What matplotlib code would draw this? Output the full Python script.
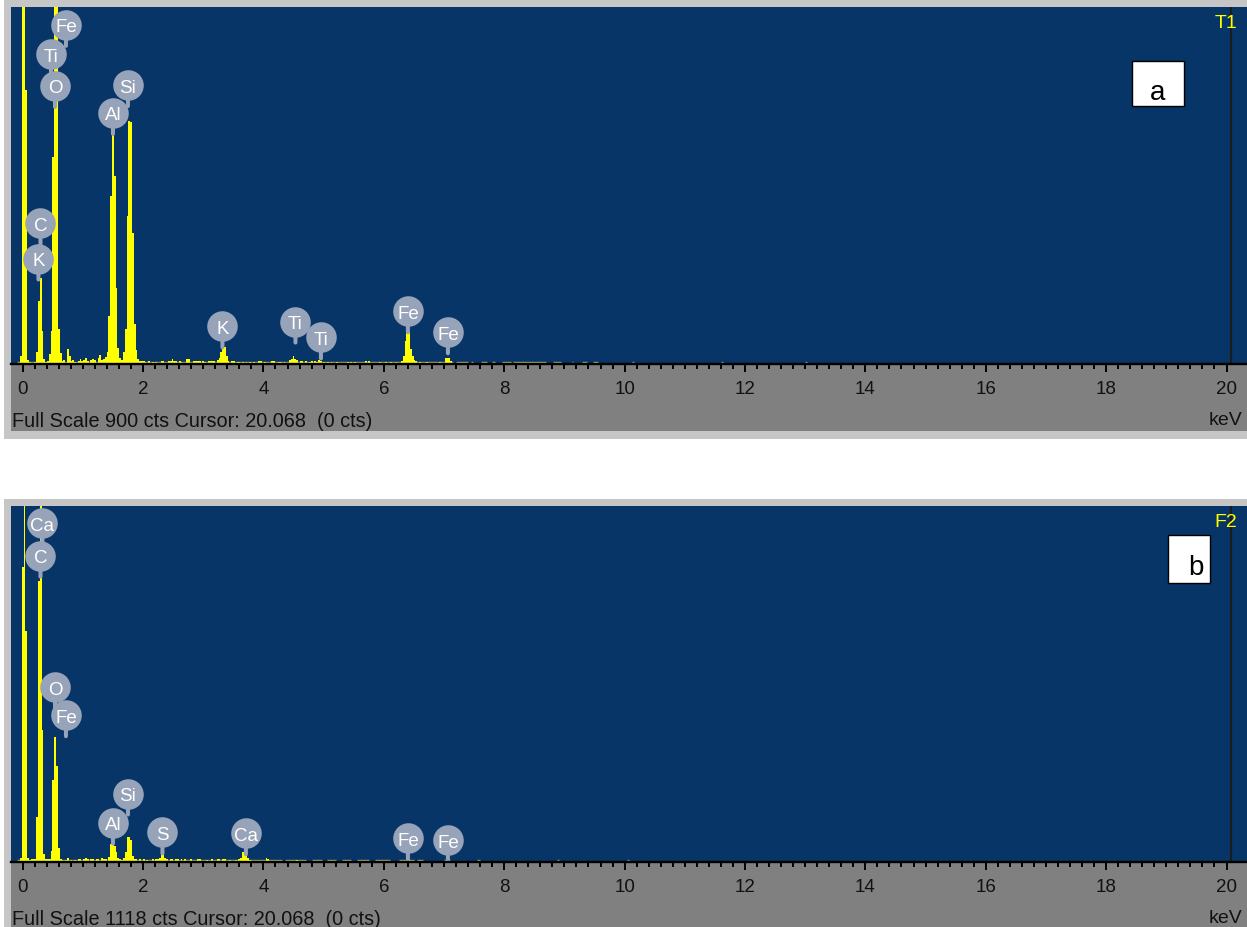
import numpy as np
import matplotlib.pyplot as plt
from matplotlib.patches import Rectangle
from matplotlib.transforms import offset_copy

plt.rcParams['font.family'] = ['Liberation Sans', 'DejaVu Sans']

# ---------------- spectrum a (T1), full scale 900 cts ----------------
a_energy = [-0.03, 0.00, 0.03, 0.06, 0.09, 0.12, 0.15, 0.18, 0.21,
            0.24, 0.27, 0.30, 0.33, 0.36, 0.39, 0.42, 0.45, 0.48, 0.51,
            0.54, 0.57, 0.60, 0.63, 0.66, 0.69, 0.75, 0.78, 0.81, 0.84,
            0.87, 0.93, 0.96, 0.99, 1.02, 1.05, 1.08, 1.14, 1.17, 1.20,
            1.26, 1.29, 1.32, 1.35, 1.38, 1.41, 1.44, 1.47, 1.50, 1.53,
            1.56, 1.59, 1.62, 1.65, 1.68, 1.71, 1.74, 1.77, 1.80, 1.83,
            1.86, 1.89, 1.92, 1.95, 1.98, 2.01, 2.04, 2.10, 2.16, 2.22,
            2.31, 2.34, 2.43, 2.46, 2.49, 2.52, 2.55, 2.61, 2.64, 2.73,
            2.76, 2.85, 2.88, 2.91, 2.94, 3.00, 3.03, 3.09, 3.12, 3.15,
            3.18, 3.24, 3.27, 3.30, 3.33, 3.36, 3.39, 3.42, 3.48, 3.51,
            3.57, 3.60, 3.66, 3.72, 3.78, 3.84, 3.93, 3.96, 4.02, 4.14,
            4.17, 4.26, 4.29, 4.35, 4.44, 4.47, 4.50, 4.53, 4.56, 4.62,
            4.65, 4.71, 4.77, 4.80, 4.86, 4.89, 4.92, 4.95, 5.01, 5.07,
            5.13, 5.22, 5.40, 5.46, 5.52, 5.70, 5.76, 5.94, 6.03, 6.12,
            6.21, 6.30, 6.33, 6.36, 6.39, 6.42, 6.45, 6.48, 6.51, 6.54,
            6.60, 6.72, 6.93, 7.03, 7.06, 7.09, 7.12]
a_counts = [20, 1400, 1200, 690, 10, 4, 3, 3, 5,
            29, 158, 216, 83, 12, 5, 8, 24, 83, 521,
            1150, 980, 87, 28, 8, 10, 38, 20, 8, 10,
            6, 8, 12, 8, 10, 14, 8, 10, 12, 10,
            14, 22, 10, 12, 18, 30, 120, 424, 585, 474,
            192, 40, 14, 10, 30, 87, 373, 613, 610, 329,
            100, 36, 12, 8, 8, 8, 6, 8, 6, 6,
            8, 8, 8, 8, 13, 8, 8, 8, 6, 13,
            13, 8, 8, 8, 8, 8, 6, 8, 8, 8,
            8, 10, 14, 29, 43, 43, 20, 8, 8, 8,
            5, 5, 5, 5, 5, 5, 8, 8, 5, 8,
            8, 5, 5, 5, 10, 12, 20, 13, 10, 8,
            8, 8, 5, 8, 8, 6, 10, 8, 6, 5,
            5, 5, 5, 5, 5, 8, 8, 6, 5, 6,
            5, 8, 20, 58, 81, 81, 37, 20, 10, 8,
            5, 5, 5, 14, 14, 14, 8]
a_tail_start = [-0.1, 7.20, 7.45, 7.62, 7.79, 7.96, 8.15, 8.81, 9.12, 9.29, 9.47, 10.12, 11.60, 13.00]
a_tail_end = [7.15, 7.40, 7.48, 7.71, 7.84, 8.12, 8.70, 8.95, 9.15, 9.37, 9.56, 10.15, 11.63, 13.03]
a_tail_level = 5
a_labels = ['C', 'K', 'Ti', 'O', 'Fe', 'Al', 'Si', 'K', 'Ti', 'Ti', 'Fe', 'Fe']
a_label_energy = [0.296, 0.262, 0.470, 0.537, 0.719, 1.500, 1.749, 3.319, 4.532, 4.955, 6.400, 7.065]
a_label_counts = [302, 213, 728, 648, 802, 580, 650, 42, 54, 14, 80, 27]

# ---------------- spectrum b (F2), full scale 1118 cts ----------------
b_energy = [-0.03, 0.00, 0.03, 0.06, 0.09, 0.12, 0.15, 0.18, 0.21,
            0.24, 0.27, 0.30, 0.33, 0.36, 0.39, 0.42, 0.45, 0.48, 0.51,
            0.54, 0.57, 0.60, 0.63, 0.66, 0.72, 0.75, 0.81, 0.87, 0.93,
            0.96, 1.02, 1.05, 1.08, 1.14, 1.17, 1.23, 1.26, 1.32, 1.35,
            1.38, 1.44, 1.47, 1.50, 1.53, 1.56, 1.59, 1.62, 1.65, 1.68,
            1.71, 1.74, 1.77, 1.80, 1.83, 1.86, 1.89, 1.95, 2.01, 2.07,
            2.16, 2.22, 2.25, 2.28, 2.31, 2.34, 2.37, 2.40, 2.46, 2.49,
            2.55, 2.58, 2.64, 2.70, 2.79, 2.91, 2.94, 3.06, 3.15, 3.24,
            3.27, 3.33, 3.36, 3.45, 3.54, 3.60, 3.63, 3.66, 3.69, 3.72,
            3.75, 3.78, 4.05, 4.08, 4.56, 6.42, 7.09]
b_counts = [14, 925, 1500, 724, 14, 5, 8, 10, 8,
            140, 881, 1400, 413, 25, 8, 8, 10, 33, 256,
            391, 300, 45, 10, 5, 5, 12, 5, 5, 8,
            10, 8, 12, 8, 8, 10, 10, 10, 12, 10,
            8, 15, 55, 55, 50, 30, 12, 8, 5, 12,
            30, 80, 80, 68, 20, 10, 8, 8, 8, 5,
            8, 10, 10, 14, 28, 28, 14, 10, 8, 8,
            8, 8, 8, 8, 8, 8, 8, 5, 8, 10,
            10, 10, 10, 5, 5, 8, 14, 30, 30, 20,
            14, 6, 12, 8, 6, 5, 3]
b_tail_start = [-0.1, 4.35, 4.80, 5.05, 5.30, 5.55, 5.85, 6.25, 6.55, 7.00, 7.55, 8.88, 10.04]
b_tail_end = [4.30, 4.70, 4.98, 5.20, 5.45, 5.75, 6.10, 6.50, 6.65, 7.10, 7.60, 8.91, 10.07]
b_tail_level = 6
b_labels = ['Ca', 'C', 'O', 'Fe', 'Al', 'Si', 'S', 'Ca', 'Fe', 'Fe']
b_label_energy = [0.329, 0.296, 0.537, 0.719, 1.500, 1.749, 2.322, 3.709, 6.400, 7.065]
b_label_counts = [998, 896, 483, 395, 58, 149, 27, 24, 8, 2]

W, H = 1247, 928
BLUE = '#073567'
GRAY = '#808080'
LIGHT = '#c6c6c6'
YELLOW = '#ffff00'
TAIL = '#a4a85c'
BUBBLE = '#97a3b8'

fig = plt.figure(figsize=(W / 100, H / 100), dpi=100)
fig.patch.set_facecolor('white')


def rect(x0, y0, x1, y1, face, z, edge='none', lw=0):
    fig.add_artist(Rectangle((x0 / W, 1 - y1 / H), (x1 - x0) / W, (y1 - y0) / H,
                             transform=fig.transFigure, facecolor=face,
                             edgecolor=edge, linewidth=lw, zorder=z))


def panel(outer_top, top, base, gray_bottom, outer_bottom, full_scale,
          energy, counts, tail_start, tail_end, tail_level,
          labels, label_energy, label_counts, tag, info, letter, box):
    rect(4, outer_top, W, outer_bottom, LIGHT, -2)
    rect(11, base, W, gray_bottom, GRAY, -1)

    ax = fig.add_axes([11 / W, 1 - base / H, (W - 11) / W, (base - top) / H])
    ax.set_facecolor(BLUE)
    ax.set_xlim(-0.194, 20.34)
    ax.set_ylim(0, full_scale)
    for s in ['top', 'left', 'right']:
        ax.spines[s].set_visible(False)
    ax.spines['bottom'].set_linewidth(1.7)
    ax.spines['bottom'].set_color('black')
    ax.spines['bottom'].set_zorder(6)

    ax.hlines(np.full(len(tail_start), tail_level), tail_start, tail_end,
              colors=TAIL, linewidth=1, zorder=1.5)
    ax.bar(energy, counts, width=0.03, color=YELLOW, linewidth=0, zorder=2)
    ax.axvline(20.068, color='#1c1c1c', linewidth=1.5, zorder=2.5)

    ax.set_yticks([])
    ax.set_xticks(range(0, 21, 2))
    ax.set_xticks(np.arange(0, 20.01, 0.2), minor=True)
    ax.tick_params(axis='x', which='major', direction='out', length=6, width=1.4,
                   color='black', labelsize=13.5, labelcolor='#111111', pad=5.5)
    ax.tick_params(axis='x', which='minor', direction='out', length=3.6, width=1.4,
                   color='black')

    circ_tr = offset_copy(ax.transData, fig=fig, x=0, y=21, units='dots')
    text_tr = offset_copy(ax.transData, fig=fig, x=0, y=14.5, units='dots')
    for i, (name, e, c) in enumerate(zip(labels, label_energy, label_counts)):
        z = 3 + i * 0.1
        ax.annotate('', xy=(e, c), xytext=(0, 14), textcoords='offset pixels',
                    arrowprops=dict(arrowstyle='-', color=BUBBLE, lw=2.9,
                                    shrinkA=0, shrinkB=0),
                    zorder=z, annotation_clip=False)
        ax.plot([e], [c], 'o', ms=22, color=BUBBLE, mec='none',
                transform=circ_tr, clip_on=False, zorder=z + 0.01)
        ax.text(e, c, name, transform=text_tr, ha='center', va='baseline',
                color='white', fontsize=13.5, zorder=z + 0.02, clip_on=False)

    fig.text(12 / W, 1 - (base + 62) / H, info, fontsize=14.3, color='#111111',
             va='baseline', ha='left')
    fig.text(1242 / W, 1 - (base + 60) / H, 'keV', fontsize=14, color='#111111',
             va='baseline', ha='right')
    fig.text(1237 / W, 1 - (top + 20) / H, tag, fontsize=14, color=YELLOW,
             va='baseline', ha='right')

    bx0, by0, bx1, by1, tx, ty = box
    rect(bx0, by0, bx1, by1, 'white', 5, edge='black', lw=1)
    fig.text(tx / W, 1 - ty / H, letter, fontsize=20, color='black',
             va='baseline', ha='center', zorder=6)


panel(1, 8, 365, 432, 440, 900, a_energy, a_counts, a_tail_start, a_tail_end,
      a_tail_level, a_labels, a_label_energy, a_label_counts, 'T1',
      'Full Scale 900 cts Cursor: 20.068  (0 cts)', 'a',
      (1132, 62, 1184, 107, 1158, 100))
panel(500, 507, 863, 940, 940, 1118, b_energy, b_counts, b_tail_start, b_tail_end,
      b_tail_level, b_labels, b_label_energy, b_label_counts, 'F2',
      'Full Scale 1118 cts Cursor: 20.068  (0 cts)', 'b',
      (1168, 536, 1210, 584, 1196, 575))

fig.savefig('out.png', dpi=100, facecolor='white')
